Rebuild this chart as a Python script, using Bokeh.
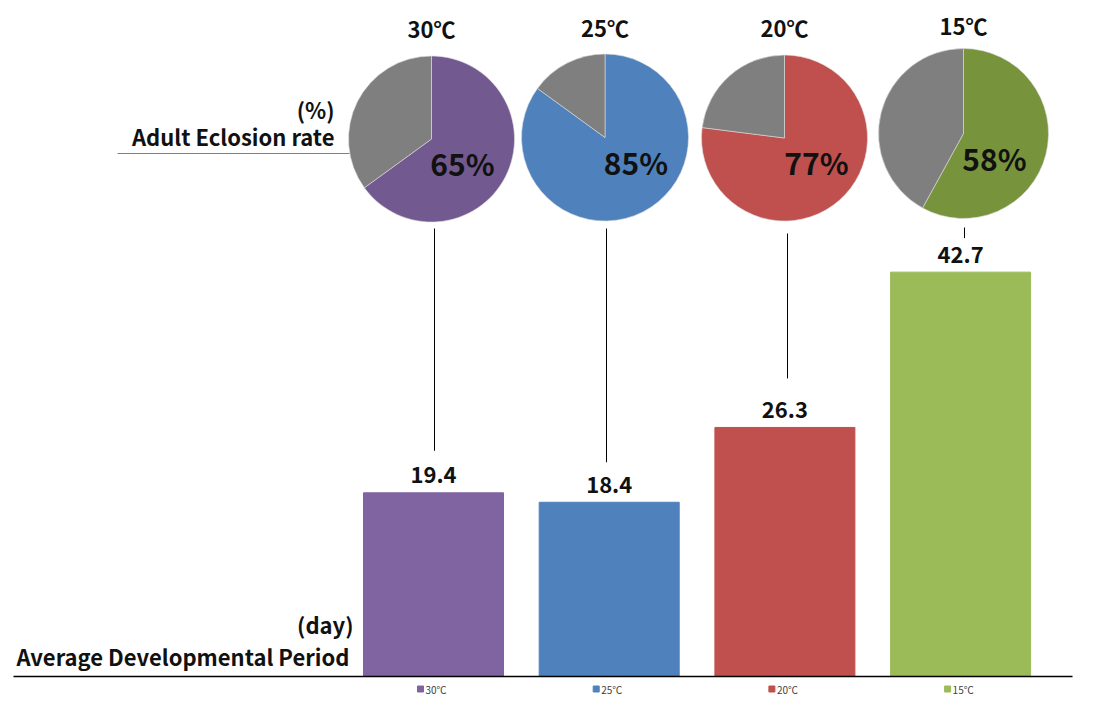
from bokeh.plotting import figure
from bokeh.models import Range1d, ColumnDataSource
from bokeh.core.properties import value
from bokeh.embed import file_html
from bokeh.resources import INLINE
import math

# ---- data ----
temps = ["30\u2103", "25\u2103", "20\u2103", "15\u2103"]
dev_days = [19.4, 18.4, 26.3, 42.7]
eclosion_pct = [65, 85, 77, 58]
bar_colors = ["#8064A2", "#4F81BD", "#C0504D", "#9BBB59"]
pie_colors = ["#725990", "#4F81BD", "#C0504D", "#77933C"]
rest_color = "#7F7F7F"

# ---- layout (image pixel geometry) ----
W, H = 1078, 696
OX, OY = 0, 0              # image position of figure's top-left corner
X0, DX = 433.0, 175.7      # image x of category 0 and spacing
Y0, PPU = 676.0, 9.47      # image y of baseline, pixels per day
FONT = value("Noto Sans CJK KR")

def dx(ix):
    return (ix - X0) / DX

def dy(iy):
    return (Y0 - iy) / PPU

p = figure(width=W, height=H, output_backend="svg", toolbar_location=None,
           x_range=Range1d(dx(OX), dx(OX + W)), y_range=Range1d(dy(OY + H), dy(OY)),
           min_border=0)
p.axis.visible = False
p.grid.visible = False
p.outline_line_color = None
p.background_fill_color = "white"
p.border_fill_color = "white"

idx = list(range(len(temps)))

# bars
src = ColumnDataSource(dict(x=idx, top=dev_days, color=bar_colors,
                            label=[f"{v:.1f}" for v in dev_days]))
p.vbar(x="x", top="top", bottom=0, width=140 / DX, color="color", source=src)
p.text(x="x", y="top", text="label", source=src, text_font=FONT, text_font_style="bold",
       text_font_size="22px", text_align="center", text_baseline="middle",
       y_offset=-18, text_color="#111111")

# baseline
p.segment(x0=[dx(13)], y0=[0], x1=[dx(1072)], y1=[0], line_color="black", line_width=1.5)

# pies
pie_cx = [431, 604.5, 784, 963]
pie_cy = [138.5, 137, 137.5, 133]
pie_r = [83, 83.5, 83, 85]
for i, pct in enumerate(eclosion_pct):
    cx, cy = dx(pie_cx[i]), dy(pie_cy[i])
    frac = pct / 100.0
    a_top = math.pi / 2
    a_split = a_top - 2 * math.pi * frac
    p.wedge(x=[cx], y=[cy], radius=pie_r[i], radius_units="screen",
            start_angle=[a_split], end_angle=[a_top],
            fill_color=pie_colors[i], line_color="#dddddd", line_width=0.6)
    p.wedge(x=[cx], y=[cy], radius=pie_r[i], radius_units="screen",
            start_angle=[a_top], end_angle=[a_split + 2 * math.pi],
            fill_color=rest_color, line_color="#dddddd", line_width=0.6)
    # percent label
    p.text(x=[cx], y=[cy], text=[f"{pct}%"], x_offset=[31 + (1 if i == 2 else 0)],
           y_offset=[24], text_font=FONT, text_font_style="bold", text_font_size="30px",
           text_align="center", text_baseline="middle", text_color="#111111")
    # title
    p.text(x=[cx], y=[cy], text=[temps[i]], y_offset=[-111 + (2 if i == 3 else 0)],
           text_font=FONT, text_font_style="bold", text_font_size="22px",
           text_align="center", text_baseline="middle", text_color="#111111")

# connectors pie -> bar label
conn_top = [228, 228, 233, 227]
conn_gap = [42, 40, 49, 34]
conn_x = [434, 606, 787, 964]
for i, v in enumerate(dev_days):
    p.segment(x0=[dx(conn_x[i])], y0=[dy(conn_top[i])], x1=[dx(conn_x[i])],
              y1=[v + conn_gap[i] / PPU], line_color="black", line_width=1)

# left labels and rule
p.segment(x0=[dx(117)], y0=[dy(153)], x1=[dx(349)], y1=[dy(153)], line_color="#808080", line_width=1)
p.text(x=[dx(334)], y=[dy(108)], text=["(%)"], text_font=FONT, text_font_style="bold",
       text_font_size="22px", text_align="right", text_baseline="middle", text_color="#111111")
p.text(x=[dx(334)], y=[dy(135)], text=["Adult Eclosion rate"], text_font=FONT, text_font_style="bold",
       text_font_size="22px", text_align="right", text_baseline="middle", text_color="#111111")
p.text(x=[dx(353)], y=[dy(623)], text=["(day)"], text_font=FONT, text_font_style="bold",
       text_font_size="22px", text_align="right", text_baseline="middle", text_color="#111111")
p.text(x=[dx(349)], y=[dy(655)], text=["Average Developmental Period"], text_font=FONT,
       text_font_style="bold", text_font_size="22px", text_align="right", text_baseline="middle",
       text_color="#111111")

# legend under bars
leg_y = dy(688.5)
p.scatter(x=[i - 13 / DX for i in idx], y=[leg_y] * 4, marker="square", size=6,
          color=bar_colors)
p.text(x=idx, y=[leg_y] * 4, text=temps, x_offset=-8, text_font=FONT, text_font_size="10px",
       text_align="left", text_baseline="middle", text_color="#404040")

open("out.html", "w").write(file_html(p, INLINE))
